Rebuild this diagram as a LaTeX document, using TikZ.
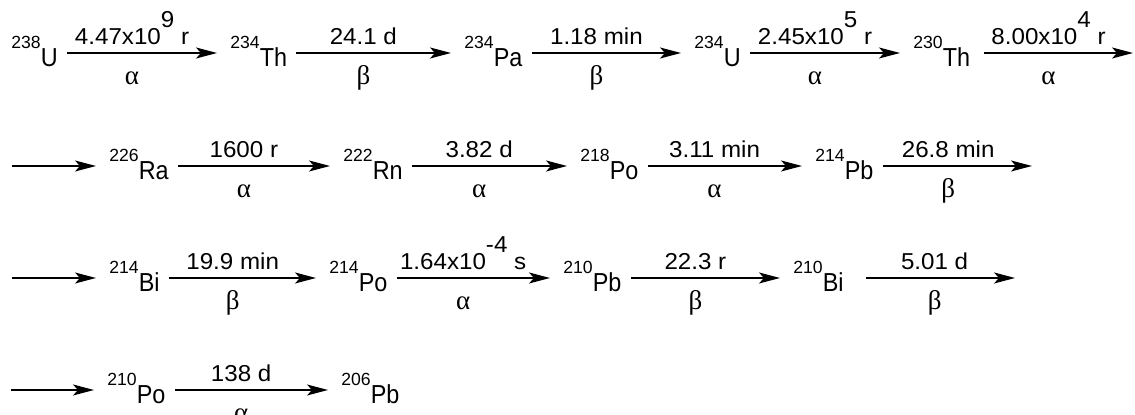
\documentclass[tikz,border=0pt]{standalone}
\usepackage{fontspec}
\setmainfont{Liberation Sans}
\newfontfamily\elfont{Liberation Sans}[FakeStretch=0.9]
\newfontfamily\lblfont{Liberation Sans}[FakeStretch=1.05]
\newfontfamily\grfont{Liberation Serif}
\usetikzlibrary{arrows.meta}

\newcommand{\nuc}[2]{{\normalfont\fontsize{8.8pt}{9pt}\selectfont\raisebox{9pt}{#1}}#2}
\newcommand{\expo}[1]{\raisebox{8.5pt}{#1}}

\begin{document}
\begin{tikzpicture}[
  x=0.5pt, y=-0.5pt,
  iso/.style={anchor=west, inner sep=0pt, text height=13.6pt, text depth=0pt,
              font=\elfont\fontsize{13pt}{15pt}\selectfont},
  rx/.style={-{Stealth[length=10.5pt, width=5.5pt, inset=2.5pt]}, line width=0.8pt,
             shorten <=4.5pt, shorten >=6.5pt},
  hl/.style={above, pos=.43, inner xsep=0pt, inner ysep=3.8pt, text depth=0pt,
             font=\lblfont\fontsize{11.5pt}{13pt}\selectfont},
  dl/.style={below, pos=.43, inner xsep=0pt, inner ysep=6.7pt, text height=8.5pt, text depth=0pt,
             font=\grfont\fontsize{13.5pt}{15pt}\selectfont}
]
\useasboundingbox (0,0) rectangle (1135,415);

% row 1
\node[iso] (u238) at (11,53) {\nuc{238}{U}};
\node[iso] (th234) at (230,53) {\nuc{234}{Th}};
\node[iso] (pa234) at (464,53) {\nuc{234}{Pa}};
\node[iso] (u234) at (694,53) {\nuc{234}{U}};
\node[iso] (th230) at (913,53) {\nuc{230}{Th}};
\coordinate (out1) at (1133,53);
\draw[rx] (u238) -- node[hl] {4.47x10\expo{9} r} node[dl] {α} (th234);
\draw[rx] (th234) -- node[hl] {24.1 d} node[dl] {β} (pa234);
\draw[rx] (pa234) -- node[hl] {1.18 min} node[dl] {β} (u234);
\draw[rx] (u234) -- node[hl] {2.45x10\expo{5} r} node[dl] {α} (th230);
\draw[rx, shorten <=7pt, shorten >=0pt] (th230) -- node[hl, pos=.48] {8.00x10\expo{4} r} node[dl, pos=.48] {α} (out1);

% row 2
\coordinate (in2) at (12,166);
\node[iso] (ra226) at (109,166) {\nuc{226}{Ra}};
\node[iso] (rn222) at (343,166) {\nuc{222}{Rn}};
\node[iso] (po218) at (580,166) {\nuc{218}{Po}};
\node[iso] (pb214) at (815,166) {\nuc{214}{Pb}};
\coordinate (out2) at (1032,166);
\draw[rx, shorten <=0pt] (in2) -- (ra226);
\draw[rx] (ra226) -- node[hl] {1600 r} node[dl] {α} (rn222);
\draw[rx] (rn222) -- node[hl] {3.82 d} node[dl] {α} (po218);
\draw[rx] (po218) -- node[hl] {3.11 min} node[dl] {α} (pb214);
\draw[rx, shorten >=0pt] (pb214) -- node[hl, pos=.47] {26.8 min} node[dl, pos=.47] {β} (out2);

% row 3
\coordinate (in3) at (12,278);
\node[iso] (bi214) at (109,278) {\nuc{214}{Bi}};
\node[iso] (po214) at (329,278) {\nuc{214}{Po}};
\node[iso] (pb210) at (563,278) {\nuc{210}{Pb}};
\node[iso] (bi210) at (793,278) {\nuc{210}{Bi}};
\coordinate (out3) at (1015,278);
\draw[rx, shorten <=0pt] (in3) -- (bi214);
\draw[rx] (bi214) -- node[hl] {19.9 min} node[dl] {β} (po214);
\draw[rx] (po214) -- node[hl] {1.64x10\expo{-4} s} node[dl] {α} (pb210);
\draw[rx] (pb210) -- node[hl] {22.3 r} node[dl] {β} (bi210);
\draw[rx, shorten <=11pt, shorten >=0pt] (bi210) -- node[hl, pos=.53] {5.01 d} node[dl, pos=.53] {β} (out3);

% row 4
\coordinate (in4) at (11,390);
\node[iso] (po210) at (107,390) {\nuc{210}{Po}};
\node[iso] (pb206) at (341,390) {\nuc{206}{Pb}};
\draw[rx, shorten <=0pt] (in4) -- (po210);
\draw[rx] (po210) -- node[hl] {138 d} node[dl] {α} (pb206);

\end{tikzpicture}
\end{document}
